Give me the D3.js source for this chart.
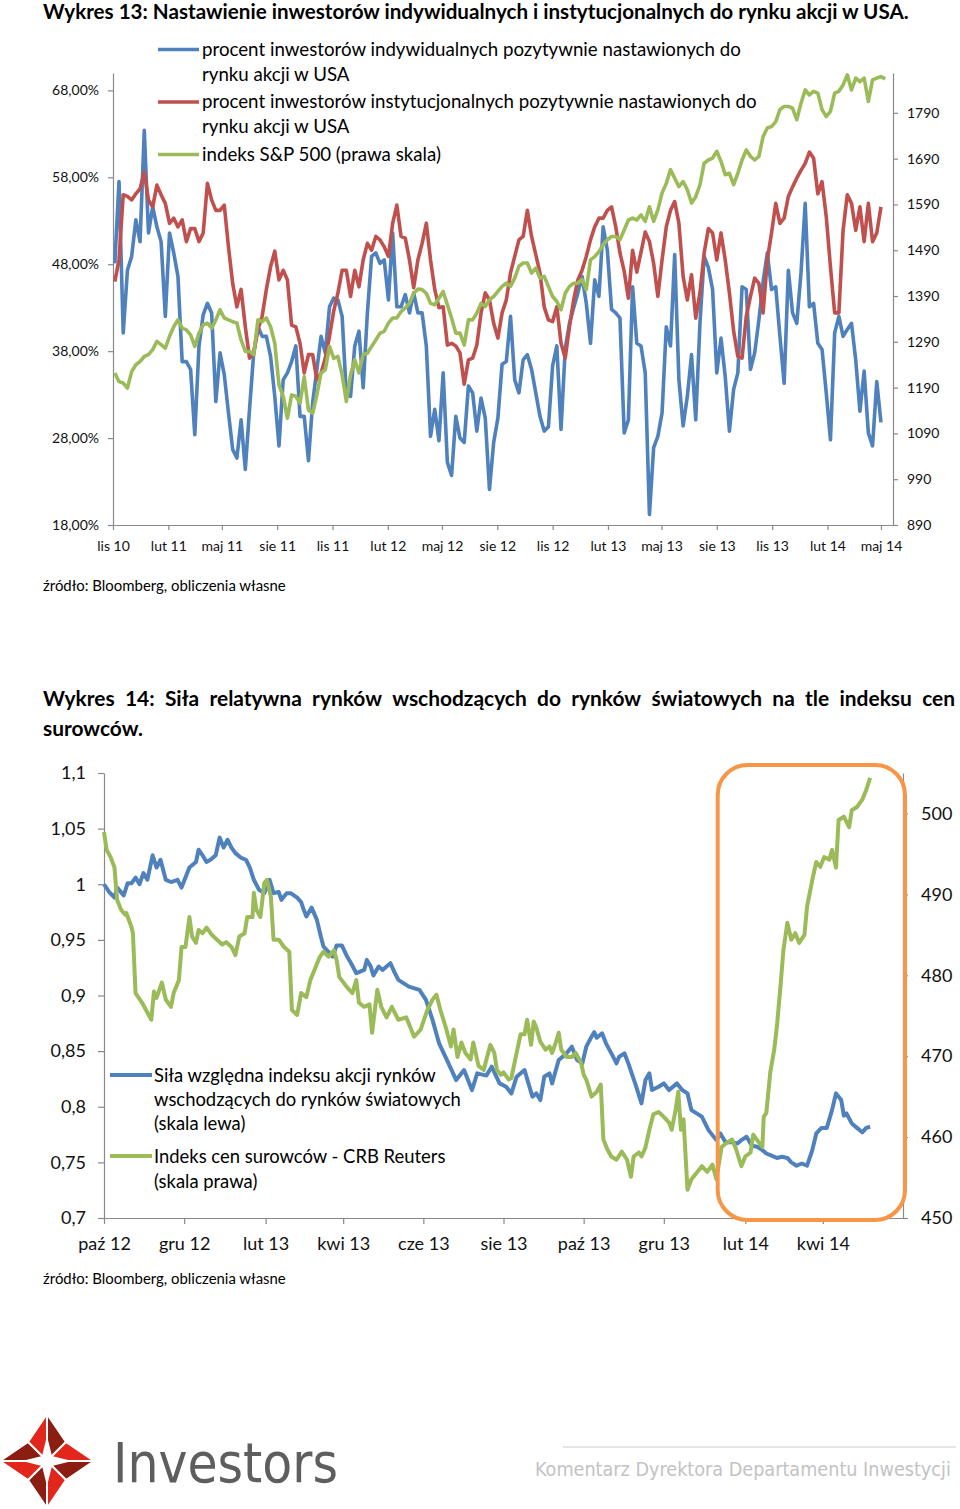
<!DOCTYPE html>
<html><head><meta charset="utf-8">
<script src="https://cdnjs.cloudflare.com/ajax/libs/d3/7.8.5/d3.min.js"></script>
<style>
body{margin:0;background:#fff}
svg{display:block}
</style></head><body>
<svg id="c" width="960" height="1509" font-family="Lato,'Open Sans',sans-serif"></svg>
<script>
// ---------------- DATA: chart 13 (weekly, from 2010-11-04) ----------------
const c1Start = "2010-11-04";
const indivPct = [48.1,57.5,40.1,47.3,48.9,53.1,50.6,63.4,51.6,54.6,
52.3,50.6,42.0,51.6,49.3,46.6,36.8,36.8,35.9,28.4,
38.6,42.2,43.5,42.4,32.2,37.8,35.3,30.9,26.7,25.7,
30.1,24.4,31.3,37.8,40.8,39.7,39.7,37.4,32.8,27.1,
34.7,35.5,36.8,38.6,30.5,30.5,25.4,32.1,35.9,39.7,
37.8,43.1,44.1,43.9,42.0,33.0,32.8,38.6,40.3,33.8,
42.4,48.9,49.3,
48.1,48.5,43.9,51.6,43.1,43.1,44.5,42.4,44.7,42.4,
42.4,38.6,28.2,31.3,27.7,35.5,25.2,23.7,30.5,28.0,
27.5,34.0,33.2,28.8,32.6,30.3,22.1,27.5,30.3,36.5,
36.8,42.0,34.7,33.2,37.0,37.6,35.9,33.2,30.5,28.8,
29.3,36.3,38.6,29.0,38.3,41.2,43.0,44.7,46.6,43.5,
38.9,46.2,44.3,52.3,49.6,42.8,42.4,41.8,28.6,30.1,
45.4,
38.9,38.6,35.5,19.2,26.9,28.2,30.9,40.8,38.6,49.1,
34.7,29.4,32.8,37.6,30.1,41.2,48.9,47.6,45.1,35.5,
39.5,35.1,28.8,33.6,35.5,45.4,45.1,35.9,37.8,41.6,
46.0,49.3,45.1,45.4,39.7,34.3,47.3,42.4,41.2,47.0,
55.0,43.1,43.5,38.9,38.2,33.2,27.8,40.1,42.0,39.7,
40.5,41.2,37.0,31.1,35.7,28.6,27.1,34.5,29.8];
const instPct = [46.0,48.5,56.0,55.8,55.4,56.1,56.7,58.6,55.4,54.6,
57.1,56.0,55.0,52.7,53.3,52.3,53.1,50.6,52.1,52.1,
50.6,51.6,57.3,55.4,54.2,54.2,54.8,50.0,45.8,43.1,
45.1,40.8,37.2,37.8,40.5,42.0,45.1,47.7,49.5,46.2,
47.3,46.2,41.0,40.8,38.9,35.5,37.6,37.6,34.7,35.5,
37.2,39.7,42.6,44.7,47.3,47.3,44.3,47.3,45.4,48.5,
50.4,49.6,51.2,
50.8,50.0,48.9,52.7,54.8,51.2,51.0,48.5,45.3,48.5,
50.4,52.7,48.5,45.1,43.0,43.1,38.7,38.9,38.6,37.8,
34.2,37.0,37.2,38.7,42.4,44.7,43.9,41.2,39.5,42.4,
43.9,47.0,48.9,50.8,51.2,54.2,51.2,49.1,47.0,43.1,
41.6,41.4,43.1,38.9,37.2,40.8,43.9,46.2,47.3,48.9,
50.8,52.3,53.3,53.3,54.2,54.6,52.3,49.3,47.2,44.1,
49.6,47.1,49.4,51.7,50.6,48.1,44.3,48.5,52.3,54.2,
55.2,52.7,46.6,43.9,46.8,41.8,44.7,49.3,52.1,51.6,
48.5,51.6,48.5,44.7,40.3,37.4,37.2,42.0,44.3,46.4,
45.8,42.4,48.5,51.6,55.0,52.7,53.3,55.8,56.9,57.9,
58.8,59.6,60.9,60.2,56.1,57.5,53.5,47.7,42.4,42.4,
51.9,56.0,55.0,51.9,54.6,50.6,55.0,50.6,51.6,54.6];
const sp500 = [1222,1203,1200,1189,1225,1240,1247,1258,1262,1273,
1291,1284,1276,1302,1323,1338,1320,1316,1305,1280,
1309,1327,1331,1320,1338,1360,1342,1338,1334,1331,
1294,1269,1269,1262,1338,1334,1342,1323,1287,1196,
1171,1123,1174,1171,1156,1214,1141,1134,1174,1222,
1229,1280,1254,1258,1218,1160,1218,1251,1222,1262,
1265,1280,1294,
1309,1313,1331,1342,1342,1356,1364,1374,1396,1405,
1404,1396,1374,1371,1385,1400,1371,1342,1309,1309,
1283,1338,1338,1353,1374,1367,1382,1389,1400,1411,
1418,1411,1429,
1455,1462,1462,1440,1451,1429,1433,1411,1389,1378,
1360,1396,1411,1418,1418,1426,1404,1469,1476,1487,
1502,1513,1520,1520,1513,1534,1556,
1560,1556,1567,1553,1585,1553,1578,1615,1636,1666,
1647,1629,1640,1622,1593,1607,1633,1680,1687,1691,
1706,1684,1655,1658,1633,1658,1687,1709,1695,1687,
1695,1738,1757,1760,1771,1797,1804,1804,1800,1775,
1811,1840,1829,1837,1833,1797,1782,1793,1833,1837,
1851,1873,1840,1866,1858,1866,1815,1862,1866,1869,1864];
const c1TickLabels = ["lis 10","lut 11","maj 11","sie 11","lis 11","lut 12","maj 12","sie 12","lis 12","lut 13","maj 13","sie 13","lis 13","lut 14","maj 14"];
const c1LeftTicks = [18,28,38,48,58,68];
const c1RightTicks = [890,990,1090,1190,1290,1390,1490,1590,1690,1790];
const c1Legend = [
  ["procent inwestorów indywidualnych pozytywnie nastawionych do","rynku akcji w USA"],
  ["procent inwestorów instytucjonalnych pozytywnie nastawionych do","rynku akcji w USA"],
  ["indeks S&P 500 (prawa skala)"]];

// ---------------- DATA: chart 14 (days since 2012-10-01) ----------------
const c2Start = "2012-10-01";
const emDays = [0,4,8,10,15,18,21,24,27,30,33,37,40,43,47,51,56,59,62,65,70,72,75,78,81,85,88,91,94,97,100,104,108,111,114,118,122,126,129,133,135,139,142,147,150,152,154,158,162,165,167,171,174,177,181,185,188,192,194,198,200,203,205,209,212,215,218,221,224,232,240,245,250,255,261,268,274,280,284,291,295,301,306,310,314,320,323,326,329,332,335,339,341,346,352,356,360,364,367,371,373,375,379,382,387,390,392,396,399,405,409,412,415,417,422,426,430,434,436,440,444,447,451,455,460,466,469,473,478,482,485,489,493,497,501,504,508,512,516,520,523,527,531,535,539,542,546,550,554,557,561,563,565,569,573,577,580,583];
const emRel = [1.000,0.993,0.988,0.997,0.990,1.001,1.001,1.006,1.000,1.010,1.004,1.026,1.015,1.022,1.004,1.002,1.004,0.997,1.006,1.015,1.020,1.031,1.026,1.020,1.022,1.026,1.042,1.033,1.040,1.033,1.028,1.024,1.022,1.015,1.004,0.995,0.992,1.004,0.992,0.993,0.986,0.992,0.992,0.988,0.984,0.977,0.971,0.979,0.968,0.953,0.944,0.939,0.935,0.945,0.945,0.935,0.929,0.920,0.921,0.923,0.932,0.926,0.918,0.926,0.923,0.926,0.929,0.921,0.914,0.908,0.905,0.896,0.878,0.857,0.842,0.824,0.833,0.815,0.830,0.828,0.836,0.821,0.818,0.812,0.827,0.833,0.821,0.809,0.812,0.806,0.827,0.830,0.821,0.842,0.848,0.854,0.842,0.839,0.854,0.863,0.867,0.862,0.866,0.857,0.846,0.839,0.845,0.848,0.839,0.818,0.803,0.824,0.830,0.815,0.818,0.821,0.815,0.819,0.821,0.815,0.812,0.797,0.794,0.791,0.779,0.770,0.776,0.768,0.768,0.767,0.770,0.773,0.765,0.764,0.761,0.758,0.756,0.754,0.755,0.754,0.750,0.747,0.749,0.747,0.761,0.776,0.781,0.781,0.797,0.812,0.806,0.792,0.794,0.785,0.781,0.777,0.781,0.782];
const crbDays = [0,2,5,8,9,10,13,16,17,21,22,24,29,33,36,38,40,44,47,51,53,57,59,62,65,67,70,72,75,78,82,86,90,93,97,100,103,107,109,113,114,116,119,122,124,127,129,133,137,141,143,147,150,154,157,161,164,167,171,175,177,179,185,189,192,194,198,202,204,208,211,215,219,224,230,236,241,246,250,253,256,260,264,266,269,272,275,279,281,285,289,291,294,297,299,302,304,308,310,314,317,320,322,325,327,329,332,336,339,341,344,346,348,352,356,359,363,365,367,371,375,378,380,383,386,390,394,398,401,403,407,409,412,415,418,422,426,430,432,435,437,439,441,444,447,451,455,459,463,466,470,474,478,481,485,488,492,494,498,501,502,504,507,510,512,515,517,520,523,526,529,533,535,539,542,545,548,552,554,557,559,563,567,569,573,577,580,583];
const crbIdx = [497.7,495.5,494.6,493.3,491.2,489.3,488.1,487.5,487.7,485.9,485.2,477.8,476.6,475.4,474.5,478.0,477.2,479.1,477.0,476.1,477.8,479.4,483.5,483.5,487.2,484.8,484.0,485.6,485.2,485.9,485.0,484.4,483.8,484.1,483.5,482.5,484.8,485.2,487.2,487.2,490.2,488.1,487.2,491.4,491.8,489.7,484.4,484.4,483.5,482.9,475.7,475.1,477.8,477.3,479.4,481.0,482.2,482.9,482.3,483.1,481.9,479.8,478.5,477.8,479.4,476.6,476.1,476.4,472.9,478.2,476.1,474.8,476.1,474.5,474.8,472.4,473.3,475.7,477.0,477.6,475.7,473.6,471.2,473.3,469.9,471.7,470.4,469.6,471.7,468.8,468.3,469.6,471.4,470.4,468.3,467.7,468.0,467.1,467.3,470.4,472.7,472.7,474.5,471.4,474.3,473.5,471.8,470.8,471.2,470.4,471.8,472.9,470.8,469.9,469.9,470.4,469.2,467.7,467.1,465.0,465.6,466.5,459.7,458.5,457.6,457.2,458.2,457.2,455.1,457.6,458.1,457.6,458.7,460.9,462.8,463.1,462.5,461.8,460.9,463.4,465.6,460.9,462.2,453.5,454.8,455.6,456.4,455.7,456.6,454.8,458.8,459.3,459.7,458.5,456.4,457.6,458.1,460.3,459.4,458.8,462.5,463.0,468.0,470.8,473.6,479.1,483.1,486.5,484.4,485.2,484.0,485.0,488.5,491.8,494.0,493.4,494.6,494.3,495.5,493.3,499.2,499.6,498.3,500.4,500.8,501.7,502.9,504.4];
const c2TickLabels = ["paź 12","gru 12","lut 13","kwi 13","cze 13","sie 13","paź 13","gru 13","lut 14","kwi 14"];
const c2LeftTicks = [0.7,0.75,0.8,0.85,0.9,0.95,1,1.05,1.1];
const c2LeftLabels = ["0,7","0,75","0,8","0,85","0,9","0,95","1","1,05","1,1"];
const c2RightTicks = [450,460,470,480,490,500];
const c2Legend = [
  ["Siła względna indeksu akcji rynków","wschodzących do rynków światowych","(skala lewa)"],
  ["Indeks cen surowców - CRB Reuters","(skala prawa)"]];
const c2HighlightFrom = "2014-01-11";

// ---------------- helpers ----------------
const svg = d3.select("#c");
const parse = d3.utcParse("%Y-%m-%d");
const BLUE="#4F81BD", RED="#C0504D", GREEN="#9BBB59", ORANGE="#F79646", AX="#8a8a8a";
const NARROW = "'Liberation Sans Narrow','Arial Narrow','DejaVu Sans Condensed',sans-serif";
function fitWidth(sel, w){
  const len = sel.node().getComputedTextLength();
  const fs = parseFloat(sel.attr("font-size"));
  sel.attr("font-size", fs*w/len);
  return fs*w/len;
}
function styleAxis(g, fs){
  g.attr("font-family", null);
  g.select(".domain").attr("stroke",AX).attr("stroke-width",1.2);
  g.selectAll(".tick line").attr("stroke",AX).attr("stroke-width",1.2);
  g.selectAll(".tick text").attr("font-size",fs).attr("fill","#111");
}

// ---------------- Chart 13 ----------------
const t1 = svg.append("text").attr("x",43).attr("y",19).attr("font-size",18)
  .attr("font-weight","bold").attr("fill","#000")
  .text("Wykres 13: Nastawienie inwestorów indywidualnych i instytucjonalnych do rynku akcji w USA.");
fitWidth(t1, 866);

const x1 = d3.scaleUtc().domain([parse("2010-11-01"), parse("2014-05-21")]).range([113, 893]);
const y1L = d3.scaleLinear().domain([18, 70]).range([525, 73]);
const y1R = d3.scaleLinear().domain([890, 1877]).range([525, 73]);
const s1 = parse(c1Start);
const wkDate = i => d3.utcDay.offset(s1, 7*i);
const c1TickDates = c1TickLabels.map((_,i)=>d3.utcMonth.offset(parse("2010-11-01"), 3*i));

const gx1 = svg.append("g").attr("transform","translate(0,525)")
  .call(d3.axisBottom(x1).tickValues(c1TickDates).tickFormat((d,i)=>c1TickLabels[i]).tickSize(5).tickSizeOuter(0));
styleAxis(gx1, 14);
gx1.selectAll(".tick text").attr("y",26).attr("dy",0);
const gy1L = svg.append("g").attr("transform","translate(113,0)")
  .call(d3.axisLeft(y1L).tickValues(c1LeftTicks).tickFormat(d=>d.toFixed(2).replace(".",",")+"%").tickSize(5).tickPadding(9).tickSizeOuter(0));
styleAxis(gy1L, 14);
const gy1R = svg.append("g").attr("transform","translate(893,0)")
  .call(d3.axisRight(y1R).tickValues(c1RightTicks).tickFormat(d3.format("d")).tickSize(5).tickPadding(9).tickSizeOuter(0));
styleAxis(gy1R, 14);

const line1L = d3.line().x((d,i)=>x1(wkDate(i))).y(d=>y1L(d));
const line1R = d3.line().x((d,i)=>x1(wkDate(i))).y(d=>y1R(d));
svg.append("path").datum(indivPct).attr("d",line1L).attr("fill","none").attr("stroke",BLUE).attr("stroke-width",3.6).attr("stroke-linejoin","round");
svg.append("path").datum(instPct).attr("d",line1L).attr("fill","none").attr("stroke",RED).attr("stroke-width",3.6).attr("stroke-linejoin","round");
svg.append("path").datum(sp500).attr("d",line1R).attr("fill","none").attr("stroke",GREEN).attr("stroke-width",3.6).attr("stroke-linejoin","round");

// legend 1
const l1Base = [[55.5,80.5],[108,133],[160.5]];
const l1Col = [BLUE, RED, GREEN];
const probe = svg.append("text").attr("font-size",20).text(c1Legend[1][0]);
const l1fs = fitWidth(probe, 555); probe.remove();
c1Legend.forEach((lines,k)=>{
  svg.append("line").attr("x1",158).attr("x2",199).attr("y1",l1Base[k][0]-6).attr("y2",l1Base[k][0]-6)
    .attr("stroke",l1Col[k]).attr("stroke-width",3.6);
  lines.forEach((t,j)=>{
    svg.append("text").attr("x",202).attr("y",l1Base[k][j]).attr("font-size",l1fs).attr("fill","#000").text(t);
  });
});
const src1 = svg.append("text").attr("x",43).attr("y",591).attr("font-size",14).attr("fill","#000")
  .text("źródło: Bloomberg, obliczenia własne");
fitWidth(src1, 243);

// ---------------- Chart 14 ----------------
const t2words = ["Wykres","14:","Siła","relatywna","rynków","wschodzących","do","rynków","światowych","na","tle","indeksu","cen"];
const t2b = svg.append("text").attr("x",43).attr("y",736).attr("font-size",19).attr("font-weight","bold").text("surowców.");
const t2fs = fitWidth(t2b, 100);
const wEls = t2words.map(w=>svg.append("text").attr("y",706).attr("font-size",t2fs).attr("font-weight","bold").text(w));
const totalW = d3.sum(wEls, e=>e.node().getComputedTextLength());
const gap = (955-43-totalW)/(t2words.length-1);
let cx = 43;
wEls.forEach(e=>{ e.attr("x",cx); cx += e.node().getComputedTextLength()+gap; });

const x2 = d3.scaleUtc().domain([parse("2012-10-01"), parse("2014-06-01")]).range([104, 903]);
const y2L = d3.scaleLinear().domain([0.7, 1.1]).range([1218, 773]);
const y2R = d3.scaleLinear().domain([450, 505]).range([1218, 773]);
const s2 = parse(c2Start);
const dayDate = d => d3.utcDay.offset(s2, d);
const c2TickDates = c2TickLabels.map((_,i)=>d3.utcMonth.offset(parse("2012-10-01"), 2*i));

const gx2 = svg.append("g").attr("transform","translate(0,1218)")
  .call(d3.axisBottom(x2).tickValues(c2TickDates).tickFormat((d,i)=>c2TickLabels[i]).tickSize(6).tickSizeOuter(0));
styleAxis(gx2, 18);
gx2.selectAll(".tick text").attr("y",32).attr("dy",0);
const gy2L = svg.append("g").attr("transform","translate(104,0)")
  .call(d3.axisLeft(y2L).tickValues(c2LeftTicks).tickFormat((d,i)=>c2LeftLabels[i]).tickSize(6).tickPadding(12).tickSizeOuter(0));
styleAxis(gy2L, 18);
const gy2R = svg.append("g").attr("transform","translate(903,0)")
  .call(d3.axisRight(y2R).tickValues(c2RightTicks).tickSize(5).tickPadding(13).tickSizeOuter(0));
styleAxis(gy2R, 18);

svg.append("path").datum(emDays.map((d,i)=>[d,emRel[i]]))
  .attr("d", d3.line().x(d=>x2(dayDate(d[0]))).y(d=>y2L(d[1])))
  .attr("fill","none").attr("stroke",BLUE).attr("stroke-width",4).attr("stroke-linejoin","round");
svg.append("path").datum(crbDays.map((d,i)=>[d,crbIdx[i]]))
  .attr("d", d3.line().x(d=>x2(dayDate(d[0]))).y(d=>y2R(d[1])))
  .attr("fill","none").attr("stroke",GREEN).attr("stroke-width",4).attr("stroke-linejoin","round");

// highlight box
const bx0 = x2(parse(c2HighlightFrom)), bx1 = x2.range()[1]+2;
const by0 = y2L(1.1)-8, by1 = y2L(0.7)+2;
svg.append("rect").attr("x",bx0).attr("y",by0).attr("width",bx1-bx0).attr("height",by1-by0)
  .attr("rx",30).attr("ry",30).attr("fill","none").attr("stroke",ORANGE).attr("stroke-width",4);

// legend 2
const l2Base = [[1082,1106,1130],[1163,1188]];
const l2Col = [BLUE, GREEN];
const probe2 = svg.append("text").attr("font-size",20).text(c2Legend[0][1]);
const l2fs = fitWidth(probe2, 307); probe2.remove();
c2Legend.forEach((lines,k)=>{
  svg.append("line").attr("x1",110).attr("x2",152).attr("y1",l2Base[k][0]-7).attr("y2",l2Base[k][0]-7)
    .attr("stroke",l2Col[k]).attr("stroke-width",4);
  lines.forEach((t,j)=>{
    svg.append("text").attr("x",154).attr("y",l2Base[k][j]).attr("font-size",l2fs).attr("fill","#000").text(t);
  });
});
const src2 = svg.append("text").attr("x",43).attr("y",1284).attr("font-size",14).attr("fill","#000")
  .text("źródło: Bloomberg, obliczenia własne");
fitWidth(src2, 243);

// ---------------- Footer ----------------
const logo = svg.append("g");
const C=[47,1461], T=[47,1414], R=[94,1461], B=[47,1508], L=[0,1461];
const iTL=[28,1442], iTR=[66,1442], iBR=[66,1480], iBL=[28,1480];
const DARK="#8B1E10", LRED="#E3261B";
const pieces = [
  [[T,iTL,C],LRED],[[T,iTR,C],DARK],
  [[R,iTR,C],LRED],[[R,iBR,C],DARK],
  [[B,iBR,C],LRED],[[B,iBL,C],DARK],
  [[L,iBL,C],LRED],[[L,iTL,C],DARK]];
pieces.forEach(p=>logo.append("polygon").attr("points",p[0].map(q=>q.join(",")).join(" "))
  .attr("fill",p[1]).attr("stroke","#fff").attr("stroke-width",2).attr("stroke-linejoin","round"));
logo.append("polygon").attr("points",[[47,1436],[52,1456],[72,1461],[52,1466],[47,1486],[42,1466],[22,1461],[42,1456]].map(q=>q.join(",")).join(" ")).attr("fill","#fff");

const inv = svg.append("text").attr("x",113).attr("y",1482).attr("font-size",62)
  .style("font-family",NARROW).attr("fill","#5e5e5e").text("Investors");
fitWidth(inv, 225);
svg.append("line").attr("x1",563).attr("x2",956).attr("y1",1447).attr("y2",1447).attr("stroke","#dcdcdc").attr("stroke-width",1.5);
const kom = svg.append("text").attr("x",535).attr("y",1476).attr("font-size",21)
  .style("font-family",NARROW).attr("fill","#c3c3c3")
  .text("Komentarz Dyrektora Departamentu Inwestycji");
fitWidth(kom, 416);
</script></body></html>
